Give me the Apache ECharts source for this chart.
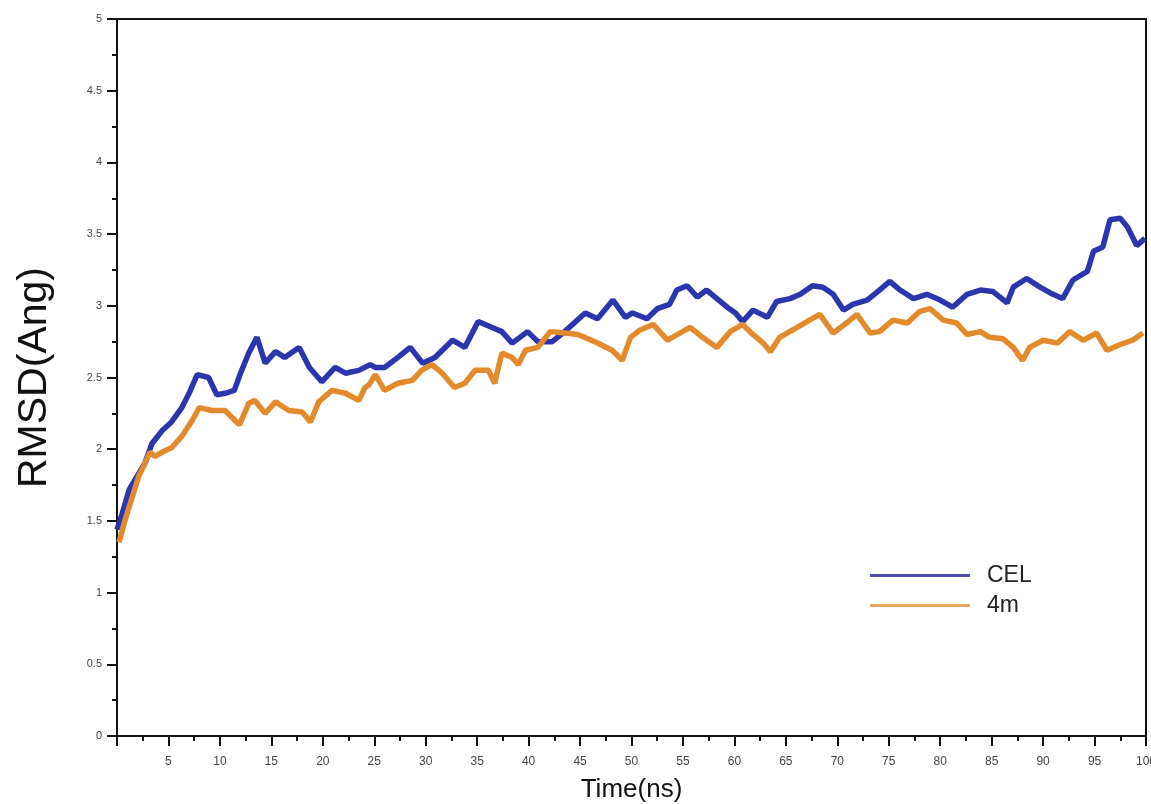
<!DOCTYPE html>
<html>
<head>
<meta charset="utf-8">
<script src="https://cdn.jsdelivr.net/npm/echarts@6/dist/echarts.min.js"></script>
<style>html,body{margin:0;padding:0;background:#fff}#c{width:1151px;height:804px}</style>
</head>
<body>
<div id="c"></div>
<script>
// Time (ns) and RMSD (Ang) values
const celTime = [0,0.5,1.2,2.1,2.7,3.4,4.4,5.3,6.3,7.0,7.8,8.9,9.7,10.5,11.4,12.0,12.8,13.6,14.4,15.4,16.3,17.7,18.7,19.9,21.2,22.2,23.5,24.6,25.1,26.0,27.3,28.5,29.7,30.9,32.6,33.8,35.1,36.4,37.4,38.4,39.9,40.9,42.3,43.5,45.5,46.7,48.2,49.4,50.1,51.5,52.5,53.7,54.4,55.4,56.4,57.3,58.3,59.3,60.1,60.8,61.8,63.2,64.1,65.4,66.4,67.6,68.6,69.6,70.6,71.5,72.9,74.1,75.1,76.1,77.4,78.7,80.0,81.2,82.6,83.9,85.1,86.5,87.1,88.4,89.7,90.7,91.9,92.9,94.3,94.9,95.8,96.5,97.5,98.2,99.1,99.9];
const celRmsd = [1.44,1.55,1.72,1.83,1.90,2.04,2.13,2.19,2.29,2.39,2.52,2.50,2.38,2.39,2.41,2.53,2.67,2.78,2.60,2.68,2.64,2.71,2.57,2.47,2.57,2.53,2.55,2.59,2.57,2.57,2.64,2.71,2.60,2.64,2.76,2.71,2.89,2.85,2.82,2.74,2.82,2.75,2.75,2.82,2.95,2.91,3.04,2.92,2.95,2.91,2.98,3.01,3.11,3.14,3.06,3.11,3.05,2.99,2.95,2.89,2.97,2.92,3.03,3.05,3.08,3.14,3.13,3.08,2.97,3.01,3.04,3.11,3.17,3.11,3.05,3.08,3.04,2.99,3.08,3.11,3.10,3.02,3.13,3.19,3.13,3.09,3.05,3.18,3.24,3.38,3.41,3.60,3.61,3.55,3.42,3.47];
const m4Time = [0.2,0.8,1.5,2.1,2.7,3.2,3.7,4.4,5.3,6.3,7.3,8.0,9.2,10.5,11.9,12.8,13.4,14.4,15.4,16.7,18.0,18.8,19.6,20.9,22.2,23.5,24.1,24.5,25.1,26.0,27.3,28.7,29.6,30.6,31.6,32.8,33.8,34.8,36.1,36.7,37.4,38.4,39.0,39.7,40.9,42.1,43.5,44.8,46.7,48.1,49.1,49.9,50.8,52.1,53.5,54.7,55.7,56.9,58.3,59.6,60.8,61.8,62.8,63.5,64.4,66.1,67.3,68.3,69.6,70.9,71.9,73.2,74.1,75.4,76.8,78.0,79.0,80.3,81.6,82.6,83.9,84.8,86.1,87.1,88.0,88.7,90.0,91.4,92.6,93.9,95.2,96.2,97.5,98.7,99.7];
const m4Rmsd = [1.35,1.51,1.67,1.81,1.90,1.98,1.95,1.98,2.01,2.09,2.20,2.29,2.27,2.27,2.17,2.32,2.34,2.25,2.33,2.27,2.26,2.19,2.33,2.41,2.39,2.34,2.43,2.45,2.52,2.41,2.46,2.48,2.55,2.59,2.53,2.43,2.46,2.55,2.55,2.46,2.67,2.64,2.59,2.69,2.71,2.82,2.81,2.80,2.74,2.69,2.62,2.78,2.83,2.87,2.76,2.81,2.85,2.78,2.71,2.82,2.87,2.80,2.74,2.68,2.78,2.85,2.90,2.94,2.81,2.88,2.94,2.81,2.82,2.90,2.88,2.96,2.98,2.90,2.88,2.80,2.82,2.78,2.77,2.71,2.62,2.71,2.76,2.74,2.82,2.76,2.81,2.69,2.73,2.76,2.81];
const seriesNames = ['CEL', '4m'];
const xTickLabels = ['5','10','15','20','25','30','35','40','45','50','55','60','65','70','75','80','85','90','95','100'];
const yTickLabels = ['0','0.5','1','1.5','2','2.5','3','3.5','4','4.5','5'];

const pairs = (t, v) => t.map((x, i) => [x, v[i]]);
const chart = echarts.init(document.getElementById('c'));
const font = 'Liberation Sans, Arial, sans-serif';
chart.setOption({
  animation: false,
  backgroundColor: '#fff',
  grid: { left: 117, right: 5, top: 19, bottom: 68, containLabel: false, outerBoundsMode: 'none',
    show: true, borderColor: '#111', borderWidth: 2, backgroundColor: 'transparent' },
  legend: {
    orient: 'vertical', left: 870, top: 564, padding: 0, itemWidth: 100, itemHeight: 3, itemGap: 7,
    icon: 'rect',
    textStyle: { fontSize: 23, fontFamily: font, color: '#222', padding: [0, 0, 0, 12], lineHeight: 22 },
    data: [
      { name: seriesNames[0], itemStyle: { color: '#4e4cb4' } },
      { name: seriesNames[1], itemStyle: { color: '#e6a765' } }
    ]
  },
  xAxis: {
    type: 'value', min: 0, max: 100, interval: 5,
    name: 'Time(ns)', nameLocation: 'middle', nameGap: 41,
    nameTextStyle: { fontSize: 26, fontFamily: font, color: '#111' },
    axisLine: { show: true, onZero: false, lineStyle: { color: '#111', width: 2 } },
    axisTick: { show: true, inside: false, length: 10, lineStyle: { color: '#111', width: 2 } },
    minorTick: { show: true, splitNumber: 2, length: 5, lineStyle: { color: '#111', width: 2 } },
    splitLine: { show: false },
    axisLabel: { fontSize: 12, fontFamily: font, color: '#444', margin: 20,
      formatter: v => { const i = Math.round(v / 5) - 1; return i >= 0 ? xTickLabels[i] : ''; } }
  },
  yAxis: {
    type: 'value', min: 0, max: 5, interval: 0.5,
    name: 'RMSD(Ang)', nameLocation: 'middle', nameGap: 62,
    nameTextStyle: { fontSize: 41, fontFamily: font, color: '#111' },
    axisLine: { show: true, onZero: false, lineStyle: { color: '#111', width: 2 } },
    axisTick: { show: true, inside: false, length: 10, lineStyle: { color: '#111', width: 2 } },
    minorTick: { show: true, splitNumber: 2, length: 5, lineStyle: { color: '#111', width: 2 } },
    splitLine: { show: false },
    axisLabel: { fontSize: 11, fontFamily: font, color: '#444', margin: 15,
      formatter: v => yTickLabels[Math.round(v / 0.5)] }
  },
  series: [
    { name: seriesNames[0], type: 'line', data: pairs(celTime, celRmsd), showSymbol: false, symbol: 'none',
      color: '#2b35ad', lineStyle: { color: '#2b35ad', width: 5.5 }, z: 2 },
    { name: seriesNames[1], type: 'line', data: pairs(m4Time, m4Rmsd), showSymbol: false, symbol: 'none',
      color: '#e38a2c', lineStyle: { color: '#e38a2c', width: 5.5 }, z: 3 }
  ]
});
</script>
</body>
</html>
